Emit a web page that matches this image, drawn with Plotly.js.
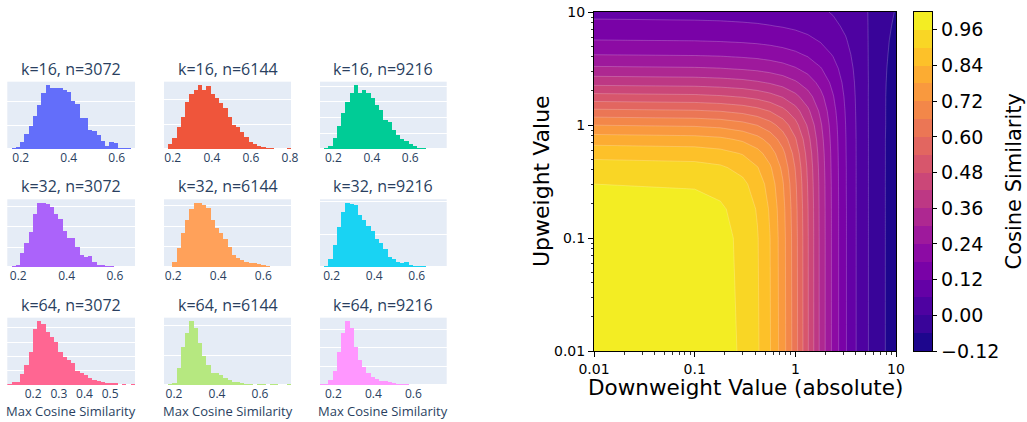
<!DOCTYPE html>
<html><head><meta charset="utf-8">
<script src="https://cdn.plot.ly/plotly-3.0.1.min.js"></script>
<style>html,body{margin:0;padding:0;background:#fff}#chart{width:1027px;height:422px}</style>
</head><body><div id="chart"></div>
<script>
// ---------- histogram data (30 equal bins between lowest and highest value) ----------
const histTitles = ['k=16, n=3072','k=16, n=6144','k=16, n=9216',
                    'k=32, n=3072','k=32, n=6144','k=32, n=9216',
                    'k=64, n=3072','k=64, n=6144','k=64, n=9216'];
const binLow  = [0.144, 0.155, 0.130, 0.1545, 0.159, 0.145, 0.099, 0.1535, 0.133];
const binHigh = [0.676, 0.805, 0.790, 0.683,  0.723, 0.741, 0.597, 0.744,  0.767];
const counts_k16_n3072 = [3,7,8,29,63,97,139,185,233,267,256,256,256,247,240,199,190,132,129,81,76,60,35,15,32,25,4,7,7,2];
const counts_k16_n6144 = [5,40,88,181,261,381,440,475,515,475,509,440,408,368,328,261,195,181,141,101,61,40,27,19,13,8,5,3,1,8];
const counts_k16_n9216 = [2,13,46,139,295,455,602,716,813,707,749,707,644,560,497,371,349,244,181,131,105,63,46,21,13,4,2,1,1,1];
const counts_k32_n3072 = [3,8,12,70,120,173,262,320,320,315,298,262,237,178,145,145,103,62,53,57,28,12,12,8,5,3,2,0,2,2];
const counts_k32_n6144 = [3,6,55,184,329,458,561,619,626,603,571,458,377,329,271,200,119,87,71,55,45,39,29,23,13,6,6,3,1,3];
const counts_k32_n9216 = [10,26,122,342,612,842,980,964,939,801,724,633,546,429,367,276,163,122,87,61,82,36,20,15,20,10,5,2,1,1];
const counts_k64_n3072 = [5,19,19,74,140,233,395,447,430,372,337,302,233,198,174,151,98,81,70,47,35,30,23,16,12,14,0,7,0,5];
const counts_k64_n6144 = [2,22,28,289,639,861,1067,944,694,489,333,194,194,167,111,83,56,44,28,22,17,6,11,17,6,11,11,6,1,11];
const counts_k64_n9216 = [18,27,134,375,893,1384,1714,1518,1027,670,491,312,223,161,107,107,89,45,36,27,18,9,9,9,9,9,3,2,2,2];
const allCounts = [counts_k16_n3072, counts_k16_n6144, counts_k16_n9216,
                   counts_k32_n3072, counts_k32_n6144, counts_k32_n9216,
                   counts_k64_n3072, counts_k64_n6144, counts_k64_n9216];

// ---------- contour data ----------
const downweightValues = [0.01,0.1,0.18,0.3,0.42,0.56,0.75,1,1.33,1.78,2.37,3.16,4.22,5.62,7.5,10];
const upweightValues   = [0.01,0.1,0.18,0.3,0.42,0.56,0.75,1,1.33,1.78,2.37,3.16,4.22,5.62,7.5,10];
const cosineSimilarity = [
 [1.000,0.995,0.983,0.952,0.908,0.844,0.749,0.625,0.486,0.345,0.224,0.125,0.047,-0.011,-0.055,-0.088],
 [0.995,0.990,0.978,0.947,0.904,0.841,0.746,0.623,0.485,0.345,0.224,0.125,0.047,-0.011,-0.055,-0.088],
 [0.985,0.980,0.968,0.938,0.895,0.833,0.740,0.619,0.483,0.344,0.224,0.125,0.047,-0.011,-0.055,-0.088],
 [0.960,0.955,0.943,0.914,0.873,0.815,0.726,0.610,0.477,0.342,0.223,0.124,0.047,-0.011,-0.055,-0.088],
 [0.927,0.920,0.909,0.881,0.843,0.789,0.706,0.597,0.470,0.338,0.221,0.124,0.047,-0.011,-0.055,-0.087],
 [0.880,0.873,0.861,0.836,0.801,0.752,0.677,0.577,0.458,0.333,0.219,0.123,0.047,-0.011,-0.055,-0.087],
 [0.810,0.802,0.792,0.769,0.739,0.697,0.633,0.546,0.440,0.323,0.215,0.122,0.047,-0.011,-0.055,-0.087],
 [0.719,0.711,0.702,0.682,0.658,0.624,0.573,0.502,0.412,0.309,0.209,0.120,0.046,-0.011,-0.054,-0.087],
 [0.614,0.606,0.598,0.582,0.563,0.538,0.499,0.445,0.373,0.287,0.199,0.116,0.045,-0.011,-0.054,-0.087],
 [0.503,0.496,0.488,0.476,0.462,0.443,0.416,0.377,0.325,0.258,0.184,0.110,0.044,-0.011,-0.054,-0.086],
 [0.400,0.394,0.388,0.379,0.368,0.355,0.336,0.309,0.272,0.222,0.164,0.102,0.042,-0.010,-0.053,-0.085],
 [0.311,0.306,0.302,0.294,0.287,0.277,0.264,0.245,0.219,0.184,0.141,0.091,0.039,-0.010,-0.051,-0.084],
 [0.238,0.234,0.231,0.225,0.220,0.213,0.203,0.190,0.172,0.147,0.116,0.078,0.034,-0.009,-0.048,-0.081],
 [0.181,0.178,0.175,0.171,0.167,0.162,0.155,0.146,0.133,0.115,0.093,0.064,0.029,-0.008,-0.045,-0.077],
 [0.137,0.134,0.132,0.129,0.126,0.122,0.117,0.110,0.101,0.089,0.072,0.051,0.024,-0.007,-0.040,-0.071],
 [0.103,0.101,0.100,0.097,0.095,0.092,0.088,0.083,0.077,0.068,0.056,0.040,0.019,-0.006,-0.034,-0.064]
];
const contourLevels = [-0.12,-0.06,0.00,0.06,0.12,0.18,0.24,0.30,0.36,0.42,0.48,0.54,0.60,0.66,0.72,0.78,0.84,0.90,0.96,1.02];
const colorbarTickVals = [-0.12,0.00,0.12,0.24,0.36,0.48,0.60,0.72,0.84,0.96];
const colorbarTickText = ['\u22120.12','0.00','0.12','0.24','0.36','0.48','0.60','0.72','0.84','0.96'];
const logTickVals = [0.01,0.1,1,10];
const logTickText = ['0.01','0.1','1','10'];
const logMinorVals = [0.02,0.03,0.04,0.05,0.06,0.07,0.08,0.09,0.2,0.3,0.4,0.5,0.6,0.7,0.8,0.9,2,3,4,5,6,7,8,9];

// ---------- styling ----------
const histColors = ['#636efa','#EF553B','#00cc96','#ab63fa','#FFA15A','#19d3f3','#FF6692','#B6E880','#FF97FF'];
const gridStep = [100,200,200,100,200,500,100,500,500];
const xTickStep = [0.2,0.2,0.2,0.2,0.2,0.2,0.1,0.2,0.2];
const bandColors = ['#1D068D','#390499','#4E02A1','#6401A6','#7902A7','#8C0BA4','#9E199C','#AE2891','#BD3884',
                    '#CB4778','#D7566C','#E26660','#EB7655','#F38749','#F9993E','#FCAC32','#FDC129','#F9D625','#F3ED23'];
const W = 1027, H = 422;
const colsPx = [[7.3,135],[164,291],[320,446.7]];
const rowsPx = [[81.7,149.3],[199.3,267.3],[317.7,385]];
const fx = p => p / W, fy = p => 1 - p / H;
const txtColor = '#2a3f5f';
const mpl = 'DejaVu Sans';

const data = [];
const layout = {
  width: W, height: H, margin: {l:0, r:0, t:0, b:0},
  paper_bgcolor: '#ffffff', plot_bgcolor: '#E5ECF6',
  font: {family: '"Open Sans", verdana, arial, sans-serif', color: txtColor},
  showlegend: false, hovermode: false, bargap: 0,
  annotations: []
};

for (let i = 0; i < 9; i++) {
  const r = Math.floor(i / 3), c = i % 3, n = i + 1;
  const counts = allCounts[i];
  const dx = (binHigh[i] - binLow[i]) / counts.length;
  data.push({type: 'bar', x0: binLow[i] + dx / 2, dx: dx, y: counts, width: dx,
             marker: {color: histColors[i], line: {width: 0}},
             xaxis: 'x' + n, yaxis: 'y' + n});
  layout['xaxis' + n] = {domain: [fx(colsPx[c][0]), fx(colsPx[c][1])], anchor: 'y' + n,
    range: [binLow[i], binHigh[i]], dtick: xTickStep[i], tick0: 0, showgrid: false, zeroline: false,
    ticks: '', showline: false, tickfont: {size: 12, color: txtColor}};
  layout['yaxis' + n] = {domain: [fy(rowsPx[r][1]), fy(rowsPx[r][0])], anchor: 'x' + n,
    showticklabels: false, dtick: gridStep[i], tick0: 0, gridcolor: '#ffffff', gridwidth: 1,
    zeroline: true, zerolinecolor: '#ffffff', zerolinewidth: 2, ticks: ''};
  layout.annotations.push({text: histTitles[i], xref: 'paper', yref: 'paper',
    x: fx((colsPx[c][0] + colsPx[c][1]) / 2), y: fy(rowsPx[r][0]), xanchor: 'center', yanchor: 'bottom',
    showarrow: false, font: {size: 16, color: txtColor}});
  if (r === 2) {
    layout.annotations.push({text: 'Max Cosine Similarity', xref: 'paper', yref: 'paper',
      x: fx((colsPx[c][0] + colsPx[c][1]) / 2), y: fy(411), xanchor: 'center', yanchor: 'middle',
      showarrow: false, font: {size: 13, color: txtColor}});
  }
}

// contour colorscale: band above level k gets bandColors[k]
const contourScale = [[0, '#0D0887']];
for (let k = 0; k < bandColors.length; k++) contourScale.push([(k + 1) / bandColors.length, bandColors[k]]);
data.push({type: 'contour', x: downweightValues, y: upweightValues, z: cosineSimilarity,
  xaxis: 'x10', yaxis: 'y10', autocontour: false,
  contours: {start: contourLevels[0], end: contourLevels[contourLevels.length - 2], size: 0.06, coloring: 'fill', showlines: true},
  line: {color: 'rgba(255,255,255,0.35)', width: 0.6, smoothing: 0},
  colorscale: contourScale, showscale: false, hoverinfo: 'skip'});

const cArea = {x: [594, 896], y: [12, 351]};
const mplAxis = {type: 'log', range: [-2, 1], tickvals: logTickVals, ticktext: logTickText,
  ticks: 'outside', ticklen: 5, tickwidth: 1, tickcolor: '#000', showline: true, linecolor: '#000',
  linewidth: 1, mirror: true, showgrid: false, zeroline: false,
  tickfont: {family: mpl, size: 14, color: '#000'},
  minor: {tickvals: logMinorVals, ticks: 'outside', ticklen: 2.5, tickwidth: 0.8, tickcolor: '#000', showgrid: false}};
layout.xaxis10 = Object.assign({}, mplAxis, {domain: [fx(cArea.x[0]), fx(cArea.x[1])], anchor: 'y10'});
layout.yaxis10 = Object.assign({}, mplAxis, {domain: [fy(cArea.y[1]), fy(cArea.y[0])], anchor: 'x10'});
layout.annotations.push({text: 'Downweight Value (absolute)', xref: 'paper', yref: 'paper',
  x: fx(745), y: fy(387), xanchor: 'center', yanchor: 'middle', showarrow: false,
  font: {family: mpl, size: 21.5, color: '#000'}});
layout.annotations.push({text: 'Upweight Value', xref: 'paper', yref: 'paper', textangle: -90,
  x: fx(541), y: fy(181), xanchor: 'center', yanchor: 'middle', showarrow: false,
  font: {family: mpl, size: 22, color: '#000'}});

// colorbar drawn as a one-column heatmap on its own axes
const bandMid = [];
for (let k = 0; k < contourLevels.length - 1; k++) bandMid.push([(contourLevels[k] + contourLevels[k + 1]) / 2]);
const barScale = [[0, bandColors[0]]];
for (let k = 0; k < bandColors.length; k++) barScale.push([(k + 0.5) / bandColors.length, bandColors[k]]);
barScale.push([1, bandColors[bandColors.length - 1]]);
data.push({type: 'heatmap', x: [0, 1], y: contourLevels, z: bandMid, zmin: contourLevels[0],
  zmax: contourLevels[contourLevels.length - 1], colorscale: barScale, showscale: false,
  xaxis: 'x11', yaxis: 'y11', hoverinfo: 'skip'});
layout.xaxis11 = {domain: [fx(914), fx(932.3)], anchor: 'y11', range: [0, 1], showticklabels: false,
  ticks: '', showgrid: false, zeroline: false, showline: true, linecolor: '#000', linewidth: 1, mirror: true};
layout.yaxis11 = {domain: [fy(351), fy(12)], anchor: 'x11', side: 'right',
  range: [contourLevels[0], contourLevels[contourLevels.length - 1]],
  tickvals: colorbarTickVals, ticktext: colorbarTickText, ticks: 'outside', ticklen: 4, tickcolor: '#000',
  showgrid: false, zeroline: false, showline: true, linecolor: '#000', linewidth: 1, mirror: true,
  tickfont: {family: mpl, size: 19, color: '#000'}};
layout.annotations.push({text: 'Cosine Similarity', xref: 'paper', yref: 'paper', textangle: -90,
  x: fx(1013), y: fy(181.5), xanchor: 'center', yanchor: 'middle', showarrow: false,
  font: {family: mpl, size: 21, color: '#000'}});

Plotly.newPlot('chart', data, layout, {staticPlot: true, displayModeBar: false});
</script>
</body></html>
